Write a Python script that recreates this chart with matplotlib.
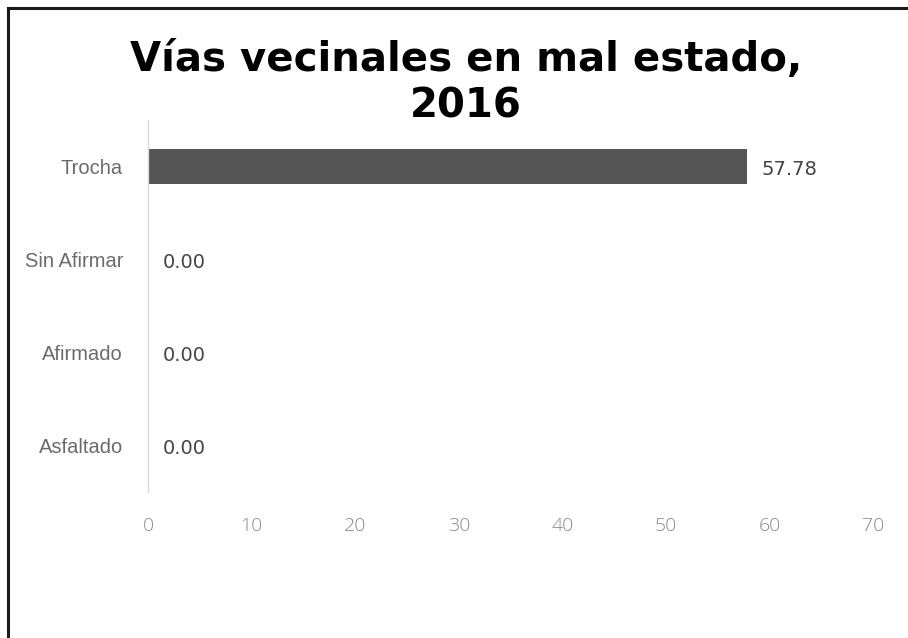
import matplotlib.pyplot as plt
from matplotlib.lines import Line2D

# datos del grafico
categorias = ['Asfaltado', 'Afirmado', 'Sin Afirmar', 'Trocha']
valores = [0.00, 0.00, 0.00, 57.78]
ticks_x = [0, 10, 20, 30, 40, 50, 60, 70]

fig = plt.figure(figsize=(9.08, 6.38), dpi=100)
ax = fig.add_axes([0.163, 0.229, 0.799, 0.583])

ax.barh(categorias, valores, height=0.37, color='#555555')
ax.set_xlim(0, 70)
ax.set_ylim(-0.5, 3.5)
ax.set_xticks(ticks_x)
ax.set_xticklabels([str(t) for t in ticks_x], color='#8a8a8a', fontsize=14,
                   family=['Open Sans', 'DejaVu Sans'], fontweight='light')
ax.set_yticks(range(len(categorias)))
ax.set_yticklabels(categorias, color='#6b6b6b', fontsize=14.5,
                   family=['Liberation Sans Narrow', 'Liberation Sans'])
ax.tick_params(axis='both', length=0)
ax.tick_params(axis='x', pad=18)
ax.tick_params(axis='y', pad=18)

for s in ['top', 'right', 'bottom']:
    ax.spines[s].set_visible(False)
ax.spines['left'].set_color('#d9d9d9')
ax.spines['left'].set_linewidth(1)

# etiquetas de valor
for i, v in enumerate(valores):
    ax.text(v + 1.4, i - 0.03, f'{v:.2f}', va='center', ha='left', fontsize=14,
            color='#444444', family=['DejaVu Sans'])

fig.text(0.513, 0.869, 'Vías vecinales en mal estado,\n2016', ha='center',
         va='center', fontsize=29, fontweight='bold', linespacing=1.2,
         family=['DejaVu Sans'])

# borde del recuadro (recortado)
fig.add_artist(Line2D([0.009, 0.009], [0.0, 0.988], transform=fig.transFigure,
                      color='#1a1a1a', linewidth=2.2))
fig.add_artist(Line2D([0.009, 1.0], [0.988, 0.988], transform=fig.transFigure,
                      color='#1a1a1a', linewidth=2.2))

fig.savefig('out.png', dpi=100)
